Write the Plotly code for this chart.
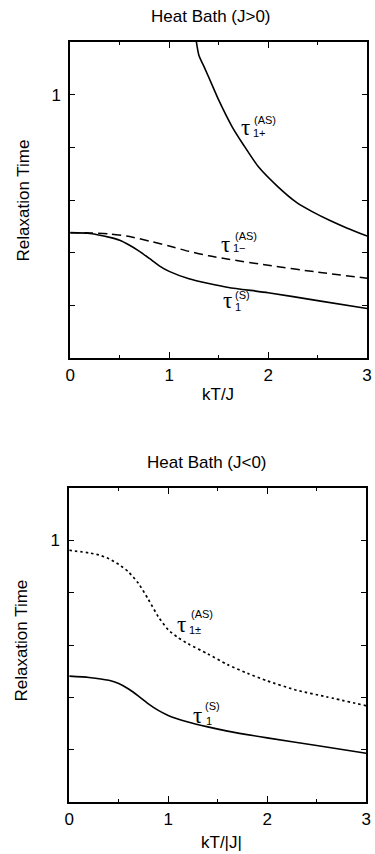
import plotly.graph_objects as go

# ---------------- data ----------------
# Top panel: Heat Bath (J>0)
kt_plus = [1.275, 1.30, 1.36, 1.43, 1.50, 1.635, 1.75, 1.90, 2.10, 2.29, 2.45, 2.62, 2.80, 3.00]
tau_plus = [1.20, 1.15, 1.10, 1.04, 0.98, 0.879, 0.810, 0.727, 0.650, 0.590, 0.555, 0.523, 0.493, 0.463]

kt_minus = [0.0, 0.2, 0.4, 0.6, 0.8, 1.0, 1.2, 1.4, 1.6, 2.0, 2.5, 3.0]
tau_minus = [0.476, 0.475, 0.471, 0.461, 0.444, 0.425, 0.405, 0.388, 0.375, 0.352, 0.326, 0.303]

kt_s_top = [0.0, 0.2, 0.4, 0.5, 0.6, 0.7, 0.8, 0.9, 1.0, 1.2, 1.4, 1.6, 2.0, 2.5, 3.0]
tau_s_top = [0.476, 0.473, 0.458, 0.447, 0.428, 0.405, 0.378, 0.350, 0.329, 0.301, 0.283, 0.268, 0.248, 0.218, 0.188]

# Bottom panel: Heat Bath (J<0)
kt_pm = [0.0, 0.2, 0.3, 0.4, 0.5, 0.6, 0.7, 0.8, 0.9, 1.0, 1.1, 1.2, 1.4, 1.6, 1.8, 2.0, 2.3, 2.6, 3.0]
tau_pm = [0.962, 0.952, 0.944, 0.930, 0.908, 0.879, 0.835, 0.774, 0.708, 0.658, 0.628, 0.605,
          0.566, 0.525, 0.492, 0.463, 0.427, 0.402, 0.368]

kt_s_bot = [0.0, 0.2, 0.4, 0.5, 0.6, 0.7, 0.8, 0.9, 1.0, 1.2, 1.4, 1.6, 2.0, 2.5, 3.0]
tau_s_bot = [0.481, 0.476, 0.465, 0.453, 0.432, 0.405, 0.375, 0.350, 0.331, 0.306, 0.287, 0.271, 0.245, 0.216, 0.186]

x_ticks = [0, 1, 2, 3]
x_ticktext = ["0", "1", "2", "3"]
x_minor = [0.5, 1.5, 2.5]
y_ticks = [0.2, 0.4, 0.6, 0.8, 1.0]
y_ticktext = ["", "", "", "", "1"]

titles = ["Heat Bath (J>0)", "Heat Bath (J<0)"]
x_titles = ["kT/J", "kT/|J|"]
y_title = "Relaxation Time"

# ---------------- figure ----------------
W, H = 375, 854
FONT = "Liberation Sans, Arial, sans-serif"
SERIF = "Liberation Serif, DejaVu Serif, serif"

fig = go.Figure()
line_solid = dict(color="black", width=1.6, shape="spline", smoothing=0.6)

fig.add_trace(go.Scatter(x=kt_plus, y=tau_plus, mode="lines", line=line_solid,
                         xaxis="x", yaxis="y", showlegend=False))
fig.add_trace(go.Scatter(x=kt_minus, y=tau_minus, mode="lines",
                         line=dict(color="black", width=1.5, dash="9px,5px", shape="spline", smoothing=0.6),
                         xaxis="x", yaxis="y", showlegend=False))
fig.add_trace(go.Scatter(x=kt_s_top, y=tau_s_top, mode="lines", line=line_solid,
                         xaxis="x", yaxis="y", showlegend=False))
fig.add_trace(go.Scatter(x=kt_pm, y=tau_pm, mode="lines",
                         line=dict(color="black", width=1.7, dash="2.5px,3px", shape="spline", smoothing=0.6),
                         xaxis="x2", yaxis="y2", showlegend=False))
fig.add_trace(go.Scatter(x=kt_s_bot, y=tau_s_bot, mode="lines", line=line_solid,
                         xaxis="x2", yaxis="y2", showlegend=False))

def xaxis(domain, anchor):
    return dict(domain=domain, anchor=anchor, range=[0, 3], showgrid=False, zeroline=False,
                showline=True, linecolor="black", linewidth=1.5, mirror="ticks",
                ticks="inside", ticklen=6, tickwidth=1.2, tickcolor="black",
                tickvals=x_ticks, ticktext=x_ticktext, ticklabeloverflow="allow",
                minor=dict(tickvals=x_minor, ticks="inside", ticklen=3, tickcolor="black", tickwidth=1.2),
                tickfont=dict(family=FONT, size=17, color="black"), ticklabelstandoff=1)

def yaxis(domain, anchor):
    return dict(domain=domain, anchor=anchor, range=[0, 1.2], showgrid=False, zeroline=False,
                showline=True, linecolor="black", linewidth=1.5, mirror="ticks",
                ticks="inside", ticklen=5, tickwidth=1.2, tickcolor="black",
                tickvals=y_ticks, ticktext=y_ticktext,
                tickfont=dict(family=FONT, size=17, color="black"), ticklabelstandoff=4)

xd = [67 / W, 372 / W]
xd2 = [66 / W, 371 / W]
yd_top = [1 - 358 / H, 1 - 42 / H]
yd_bot = [1 - 802 / H, 1 - 488 / H]

fig.update_layout(
    width=W, height=H, margin=dict(l=0, r=0, t=0, b=0),
    paper_bgcolor="white", plot_bgcolor="white",
    xaxis=xaxis(xd, "y"), yaxis=yaxis(yd_top, "x"),
    xaxis2=xaxis(xd2, "y2"), yaxis2=yaxis(yd_bot, "x2"),
)

ann = []
def paper_text(text, x, y, size=17, angle=0):
    ann.append(dict(text=text, x=x / W, y=1 - y / H, xref="paper", yref="paper",
                    showarrow=False, textangle=angle, xanchor="center", yanchor="middle",
                    font=dict(family=FONT, size=size, color="black")))

paper_text(titles[0], 212, 16)
paper_text(titles[1], 208, 462)
paper_text(x_titles[0], 219, 395)
paper_text(x_titles[1], 222, 842)
paper_text(y_title, 19, 200, angle=-90)
paper_text(y_title, 16, 641, angle=-90)

def tau_label(xr, yr, xt, yt, sup, xs, ys, sub, xb, yb):
    ann.append(dict(text="τ", x=xt, y=yt, xref=xr, yref=yr, showarrow=False,
                    xanchor="center", yanchor="middle",
                    font=dict(family=SERIF, size=23, color="black")))
    ann.append(dict(text=sup, x=xs, y=ys, xref=xr, yref=yr, showarrow=False,
                    xanchor="center", yanchor="middle",
                    font=dict(family=FONT, size=11, color="black")))
    ann.append(dict(text=sub, x=xb, y=yb, xref=xr, yref=yr, showarrow=False,
                    xanchor="center", yanchor="middle",
                    font=dict(family=FONT, size=11, color="black")))

tau_label("x", "y", 1.77, 0.875, "(AS)", 1.97, 0.902, "1+", 1.91, 0.853)
tau_label("x", "y", 1.57, 0.430, "(AS)", 1.78, 0.464, "1−", 1.71, 0.416)
tau_label("x", "y", 1.59, 0.220, "(S)", 1.74, 0.240, "1", 1.70, 0.192)
tau_label("x2", "y2", 1.13, 0.679, "(AS)", 1.34, 0.718, "1±", 1.27, 0.658)
tau_label("x2", "y2", 1.30, 0.332, "(S)", 1.45, 0.366, "1", 1.41, 0.310)

fig.update_layout(annotations=ann)
fig.write_html("out.html")
